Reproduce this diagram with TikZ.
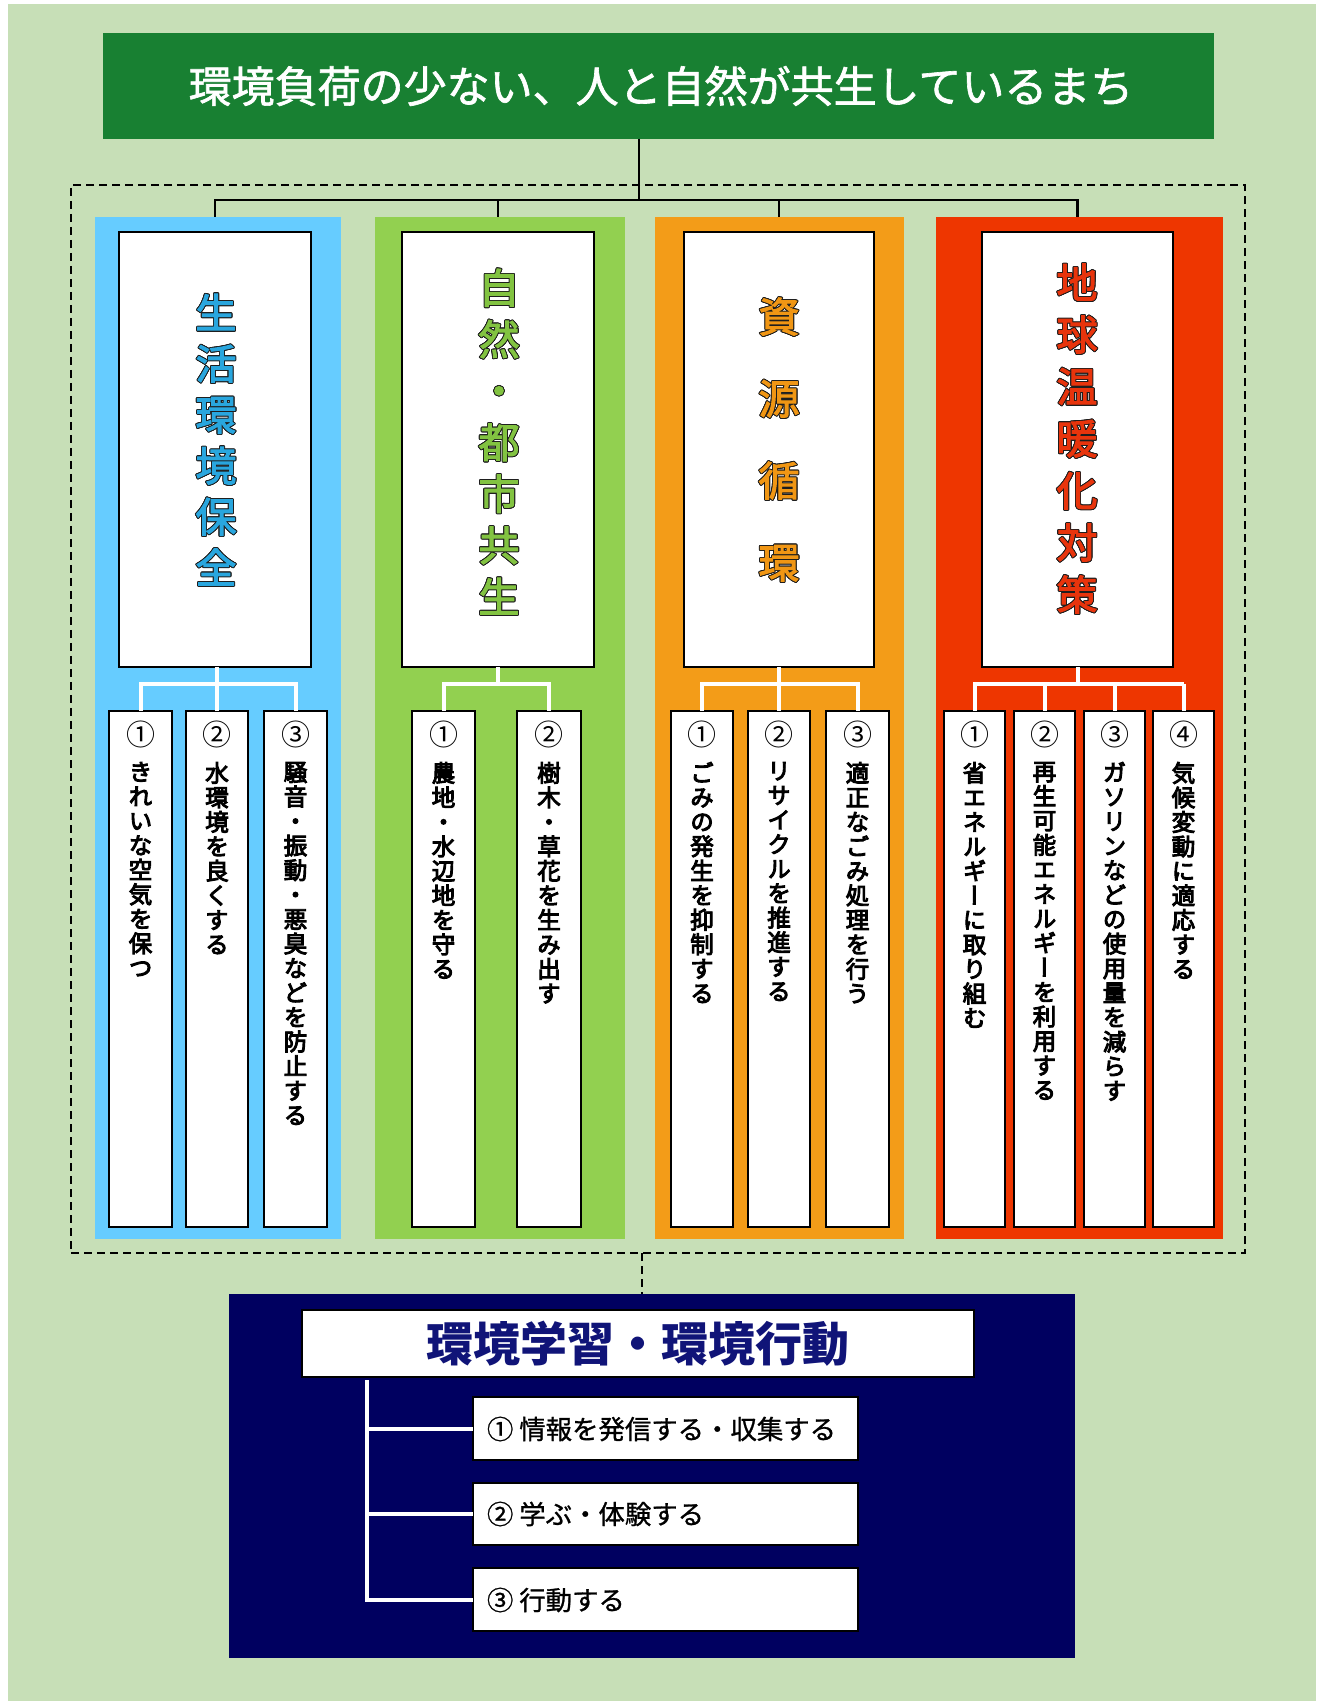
\documentclass[tikz,border=0pt]{standalone}
\usepackage{fontspec}
\newfontfamily\jp{Noto Sans CJK JP}
\newfontfamily\jpt[FakeBold=1.5]{Noto Sans CJK JP}
\newfontfamily\jpi[FakeBold=1]{Noto Sans CJK JP}
\newfontfamily\jpv[RawFeature=+vert]{Noto Sans CJK JP}
\newfontfamily\jpvb[RawFeature=+vert,FakeBold=4]{Noto Sans CJK JP}
\newfontfamily\jpvh[RawFeature=+vert,FakeBold=2.5]{Noto Sans CJK JP}
\usepackage{contour}
\contourlength{0.45pt}
\definecolor{bgc}{RGB}{199,223,183}
\definecolor{titleg}{RGB}{24,128,50}
\definecolor{pblue}{RGB}{102,204,255}
\definecolor{pgreen}{RGB}{146,208,80}
\definecolor{porange}{RGB}{243,156,24}
\definecolor{pred}{RGB}{238,54,0}
\definecolor{tblue}{RGB}{41,166,222}
\definecolor{tgreen}{RGB}{130,195,65}
\definecolor{torange}{RGB}{240,150,20}
\definecolor{tred}{RGB}{232,52,12}
\definecolor{navy}{RGB}{0,0,96}
\definecolor{navytext}{RGB}{16,20,120}
\definecolor{outl}{RGB}{30,30,30}
\ExplSyntaxOn
\cs_new_protected:Npn \vstackinner #1 #2
  { \tl_map_inline:nn {#2} { \hbox_to_wd:nn {1.3em} { \hss #1{##1} \hss } } }
\ExplSyntaxOff
\newcommand\vstack[3]{\vbox{\baselineskip=#1\lineskiplimit=-100pt\lineskip=0pt\vstackinner{#2}{#3}}}
\newcommand\plainfmt[1]{#1}
\newcommand\outfmt[1]{\contour{outl}{#1}}
\newcommand\rbox[6]{\node[#6, anchor=north west, minimum width={(#4-(#2))*0.5pt}, minimum height={(#5-(#3))*0.5pt}] (#1) at (#2,#3) {};}
\newcommand\subbox[5]{%
  \rbox{#1}{#2}{711}{#3}{1227}{wbox}
  \node[font=\jp\fontsize{14.5}{16}\selectfont] (#1n) at ({(#2+#3)/2},734) {#4};
  \node[anchor=north, font=\jpvb\fontsize{11.8}{12.25}\selectfont] (#1t) at ({(#2+#3)/2},762) {\vstack{12.25pt}{\plainfmt}{#5}};
}
\begin{document}
\begin{tikzpicture}[x=0.5pt,y=-0.5pt,
  every node/.style={inner sep=0pt, outer sep=0pt},
  blk/.style={line width=1.3pt, draw=black},
  wht/.style={line width=2pt, draw=white},
  wbox/.style={draw=black, fill=white, line width=1.4pt},
  dbox/.style={draw=black, dashed, dash pattern=on 4pt off 2.5pt, line width=0.8pt}]
\useasboundingbox (0,0) rectangle (1325,1701);
\fill[bgc] (8,4) rectangle (1316,1701);
% title
\rbox{title}{103}{33}{1214}{139}{fill=titleg}
\node[text=white, font=\jpt\fontsize{21.5}{24}\selectfont] (titlet) at (661,86) {環境負荷の少ない、人と自然が共生しているまち};
% dashed frame
\rbox{frame}{71}{185}{1245}{1253}{dbox}
% panels
\rbox{pB}{95}{217}{341}{1239}{fill=pblue}
\rbox{pG}{375}{217}{625}{1239}{fill=pgreen}
\rbox{pO}{655}{217}{904}{1239}{fill=porange}
\rbox{pR}{936}{217}{1223}{1239}{fill=pred}
% headers
\rbox{hB}{119}{232}{311}{667}{wbox}
\rbox{hG}{402}{232}{594}{667}{wbox}
\rbox{hO}{684}{232}{874}{667}{wbox}
\rbox{hR}{982}{232}{1173}{667}{wbox}
\node[text=tblue, font=\jpvh\fontsize{20.5}{25}\selectfont] (hBt) at (216,440) {\vstack{25.5pt}{\outfmt}{生活環境保全}};
\node[text=tgreen, font=\jpvh\fontsize{20.5}{25}\selectfont] (hGt) at (499,442) {\vstack{25.75pt}{\outfmt}{自然・都市共生}};
\node[text=torange, font=\jpvh\fontsize{20.5}{25}\selectfont] (hOt) at (779,440) {\vstack{41pt}{\outfmt}{資源循環}};
\node[text=tred, font=\jpvh\fontsize{20.5}{25}\selectfont] (hRt) at (1077,439) {\vstack{26pt}{\outfmt}{地球温暖化対策}};
% top connectors
\coordinate (tbus) at (639,200);
\draw[blk] (title.south -| tbus) -- (tbus);
\draw[blk] (hB.north |- pB.north) |- (tbus) -| (hR.north |- pR.north);
\draw[blk] (hG.north |- pG.north) -- (hG.north |- tbus);
\draw[blk] (hO.north |- pO.north) -- (hO.north |- tbus);
% sub boxes
\subbox{B1}{109}{172}{①}{きれいな空気を保つ}
\subbox{B2}{186}{248}{②}{水環境を良くする}
\subbox{B3}{264}{327}{③}{騒音・振動・悪臭などを防止する}
\subbox{G1}{412}{475}{①}{農地・水辺地を守る}
\subbox{G2}{517}{581}{②}{樹木・草花を生み出す}
\subbox{O1}{671}{733}{①}{ごみの発生を抑制する}
\subbox{O2}{748}{810}{②}{リサイクルを推進する}
\subbox{O3}{826}{889}{③}{適正なごみ処理を行う}
\subbox{R1}{944}{1005}{①}{省エネルギーに取り組む}
\subbox{R2}{1014}{1075}{②}{再生可能エネルギーを利用する}
\subbox{R3}{1084}{1145}{③}{ガソリンなどの使用量を減らす}
\subbox{R4}{1153}{1214}{④}{気候変動に適応する}
% white connectors in panels
\coordinate (wbus) at (0,684);
\draw[wht] (B2.north) -- (hB.south -| B2.north);
\draw[wht] (B1.north) |- (wbus -| B2.north) -| (B3.north);
\draw[wht] (hG.south) -- (hG.south |- wbus);
\draw[wht] (G1.north) |- (wbus -| hG.south) -| (G2.north);
\draw[wht] (O2.north) -- (hO.south -| O2.north);
\draw[wht] (O1.north) |- (wbus -| O2.north) -| (O3.north);
\draw[wht] (hR.south) -- (hR.south |- wbus);
\draw[wht] (R1.north) |- (wbus -| R2.north) -| (R2.north);
\draw[wht] (wbus -| R1.north) -- (wbus -| R4.north);
\draw[wht] (R3.north) -- (R3.north |- wbus);
\draw[wht] (R4.north) -- (R4.north |- wbus);
% bottom section
\rbox{navyb}{229}{1294}{1075}{1658}{fill=navy}
\coordinate (dv) at (642,0);
\draw[dbox] (frame.south -| dv) -- (navyb.north -| dv);
\rbox{btitle}{302}{1310}{974}{1377}{wbox}
\node[text=navytext, font=\jp\bfseries\fontsize{23.5}{26}\selectfont] (btitlet) at (638,1344) {環境学習・環境行動};
\rbox{I1}{473}{1397}{858}{1460}{wbox}
\rbox{I2}{473}{1483}{858}{1545}{wbox}
\rbox{I3}{473}{1568}{858}{1631}{wbox}
\node[anchor=west, font=\jpi\fontsize{13.2}{14}\selectfont] (I1t) at (487,1429) {① 情報を発信する・収集する};
\node[anchor=west, font=\jpi\fontsize{13.2}{14}\selectfont] (I2t) at (487,1514) {② 学ぶ・体験する};
\node[anchor=west, font=\jpi\fontsize{13.2}{14}\selectfont] (I3t) at (487,1600) {③ 行動する};
\coordinate (vl) at (366.5,1380);
\draw[wht] (vl) |- (I3.west);
\draw[wht] (vl |- I1.west) -- (I1.west);
\draw[wht] (vl |- I2.west) -- (I2.west);
\end{tikzpicture}
\end{document}
